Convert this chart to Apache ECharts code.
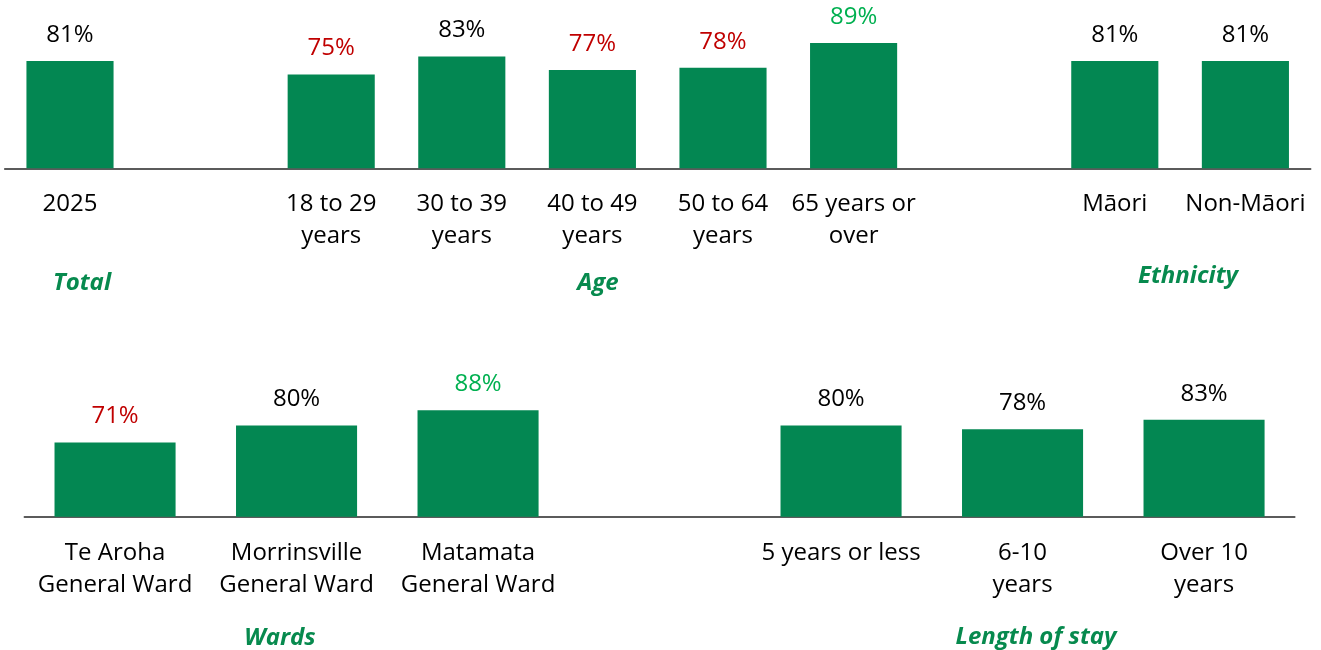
<!DOCTYPE html>
<html>
<head>
    <meta charset="utf-8">
    <title>Satisfaction by group</title>
    <script src="https://cdn.jsdelivr.net/npm/echarts@6/dist/echarts.min.js"></script>
    <style>
        html, body { margin: 0; padding: 0; background: #fff; }
    </style>
</head>
<body>
    <div id="demo" style="width: 1321px;height:650px;"></div>
    <script type="text/javascript">
        // top row: Total | Age | Ethnicity  ('' = empty spacer slot)
        var topCategories = ['2025', '', '18 to 29\nyears', '30 to 39\nyears', '40 to 49\nyears',
            '50 to 64\nyears', '65 years or\nover', '', 'Māori', 'Non-Māori'];
        var topValues = [81, '-', 75, 83, 77, 78, 89, '-', 81, 81];
        // significance vs total: 'low', 'high' or ''
        var topSig = ['', '', 'low', '', 'low', 'low', 'high', '', '', ''];

        // bottom row: Wards | Length of stay
        var bottomCategories = ['Te Aroha\nGeneral Ward', 'Morrinsville\nGeneral Ward', 'Matamata\nGeneral Ward',
            '', '5 years or less', '6-10\nyears', 'Over 10\nyears'];
        var bottomValues = [71, 80, 88, '-', 80, 78, 83];
        var bottomSig = ['low', '', 'high', '', '', '', ''];

        var groupNames = ['Total', 'Age', 'Ethnicity', 'Wards', 'Length of stay'];

        var barColor = '#038752';
        var sigColor = { low: '#C00000', high: '#00B050', '': '#000000' };
        var fontFamily = "'Open Sans', 'Liberation Sans', sans-serif";

        var chart = echarts.init(document.getElementById('demo'));

        // per-point label colour depends on the significance flag
        function barData(values, sig) {
            return values.map(function (v, i) {
                return { value: v, label: { color: sigColor[sig[i]] } };
            });
        }

        var valueLabel = {
            show: true,
            position: 'top',
            distance: 14,
            fontFamily: fontFamily,
            fontSize: 24,
            formatter: function (p) { return p.value + '%'; }
        };

        function xAxisFor(idx, data) {
            return {
                type: 'category',
                gridIndex: idx,
                data: data,
                axisTick: { show: false },
                axisLine: { lineStyle: { color: '#262626', width: 1.5 } },
                axisLabel: {
                    interval: 0,
                    margin: 20,
                    color: '#000',
                    fontFamily: fontFamily,
                    fontSize: 24,
                    lineHeight: 32
                },
                splitLine: { show: false }
            };
        }

        function groupTitle(text, x, y) {
            return {
                type: 'text',
                x: x,
                y: y,
                style: {
                    text: text,
                    fill: '#078A4E',
                    font: 'italic bold 24px ' + fontFamily,
                    textAlign: 'center',
                    textVerticalAlign: 'middle'
                }
            };
        }

        var option = {
            animation: false,
            backgroundColor: '#fff',
            grid: [
                { left: 4.7, width: 1306, top: 18.5, height: 149.8, containLabel: false, outerBoundsMode: 'none' },
                { left: 24.3, width: 1270.5, top: 387.5, height: 129.2, containLabel: false, outerBoundsMode: 'none' }
            ],
            xAxis: [
                xAxisFor(0, topCategories),
                xAxisFor(1, bottomCategories)
            ],
            yAxis: [
                { type: 'value', gridIndex: 0, min: 33, max: 100, show: false },
                { type: 'value', gridIndex: 1, min: 32, max: 100, show: false }
            ],
            series: [
                {
                    type: 'bar',
                    xAxisIndex: 0,
                    yAxisIndex: 0,
                    data: barData(topValues, topSig),
                    barWidth: '66.7%',
                    itemStyle: { color: barColor },
                    label: valueLabel
                },
                {
                    type: 'bar',
                    xAxisIndex: 1,
                    yAxisIndex: 1,
                    data: barData(bottomValues, bottomSig),
                    barWidth: '66.7%',
                    itemStyle: { color: barColor },
                    label: valueLabel
                }
            ],
            graphic: [
                groupTitle(groupNames[0], 82, 283),
                groupTitle(groupNames[1], 598, 283),
                groupTitle(groupNames[2], 1188, 276),
                groupTitle(groupNames[3], 280, 638),
                groupTitle(groupNames[4], 1036, 637)
            ]
        };

        chart.setOption(option);
    </script>
</body>
</html>
